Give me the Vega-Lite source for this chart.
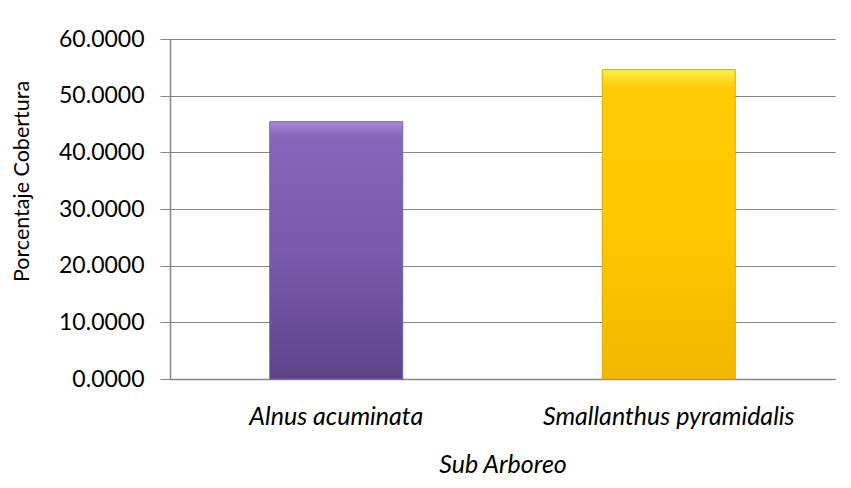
{
  "$schema": "https://vega.github.io/schema/vega-lite/v6.json",
  "width": 665,
  "height": 340,
  "autosize": "none",
  "padding": {"left": 170, "top": 39, "right": 16, "bottom": 109},
  "background": "white",
  "config": {
    "view": {"stroke": null},
    "font": "Lato"
  },
  "data": {
    "values": [
      {"especie": "Alnus acuminata", "cobertura": 45.4},
      {"especie": "Smallanthus pyramidalis", "cobertura": 54.6}
    ]
  },
  "encoding": {
    "x": {
      "field": "especie",
      "type": "nominal",
      "sort": null,
      "scale": {"paddingInner": 0.6, "paddingOuter": 0.3},
      "axis": {
        "title": "Sub Arboreo",
        "titleFont": "Lato",
        "titleFontStyle": "italic",
        "titleFontWeight": "normal",
        "titleFontSize": 25,
        "titleColor": "#000000",
        "titlePadding": 23,
        "labelFont": "Lato",
        "labelFontStyle": "italic",
        "labelFontSize": 25,
        "labelColor": "#000000",
        "labelAngle": 0,
        "labelPadding": 25,
        "labelLimit": 0,
        "ticks": false,
        "domainColor": "#868686",
        "domainWidth": 1.5
      }
    },
    "y": {
      "field": "cobertura",
      "type": "quantitative",
      "scale": {"domain": [0, 60]},
      "axis": {
        "title": "Porcentaje Cobertura",
        "titleFont": "Lato",
        "titleFontWeight": "normal",
        "titleFontSize": 21.5,
        "titleColor": "#000000",
        "titleX": -148,
        "titleY": 142,
        "titleAngle": -90,
        "titleAlign": "center",
        "titleBaseline": "middle",
        "values": [0, 10, 20, 30, 40, 50, 60],
        "format": ".4f",
        "labelFont": "Lato",
        "labelFontSize": 23,
        "labelColor": "#000000",
        "labelPadding": 16,
        "tickSize": 10,
        "tickColor": "#868686",
        "domainColor": "#868686",
        "domainWidth": 1.5,
        "gridColor": "#868686",
        "gridWidth": 1
      }
    }
  },
  "layer": [
    {
      "transform": [{"filter": "datum.especie === 'Alnus acuminata'"}],
      "mark": {
        "type": "bar",
        "stroke": "#7a5fa8",
        "strokeWidth": 1,
        "color": {
          "gradient": "linear",
          "x1": 0, "y1": 0, "x2": 0, "y2": 1,
          "stops": [
            {"offset": 0, "color": "#a58bd6"},
            {"offset": 0.06, "color": "#8665ba"},
            {"offset": 0.5, "color": "#7b5aad"},
            {"offset": 1, "color": "#5e4388"}
          ]
        }
      }
    },
    {
      "transform": [{"filter": "datum.especie === 'Smallanthus pyramidalis'"}],
      "mark": {
        "type": "bar",
        "stroke": "#e0a800",
        "strokeWidth": 1,
        "color": {
          "gradient": "linear",
          "x1": 0, "y1": 0, "x2": 0, "y2": 1,
          "stops": [
            {"offset": 0, "color": "#fff04a"},
            {"offset": 0.06, "color": "#ffcb05"},
            {"offset": 0.5, "color": "#ffc800"},
            {"offset": 1, "color": "#f2b800"}
          ]
        }
      }
    }
  ]
}
